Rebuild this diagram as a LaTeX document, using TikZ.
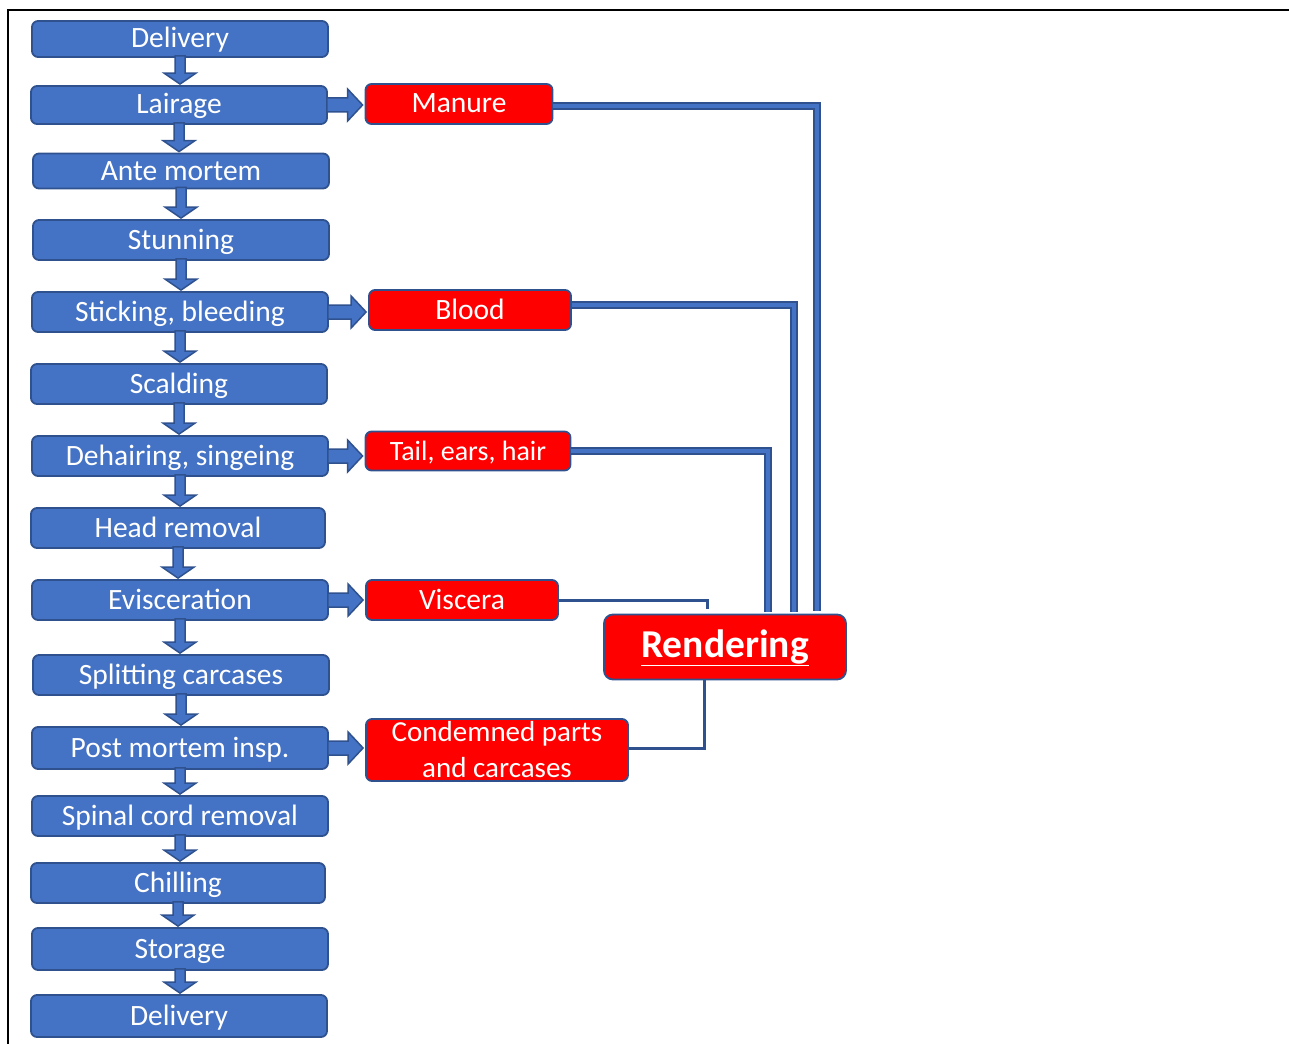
\documentclass[tikz,border=0pt]{standalone}
\usepackage{fontspec}
\setmainfont{Carlito}
\usetikzlibrary{calc}

\definecolor{procblue}{HTML}{4472C4}
\definecolor{edgeblue}{HTML}{2F528F}

\begin{document}
\begin{tikzpicture}[x=1pt, y=-1pt, align=center]
    \tikzset{
        n/.style        =   { rectangle
                            , rounded corners=6pt
                            , text centered
                            , draw=edgeblue
                            , line width=1.8pt
                            , fill=procblue
                            , text=white
                            , font=\fontsize{29.5}{35}\selectfont
                            , minimum width=296pt
                            , minimum height=40pt
                            , inner sep=0pt
                            , text height=24pt
                            , text depth=6pt
        }
        , w/.style      =   { n
                            , fill=red
                            , minimum width=0pt
        }
        , blk/.style    =   { fill=procblue
                            , draw=edgeblue
                            , line width=1.5pt
        }
        , dn/.style     =   { blk
                            , to path={let \p1=(\tikztostart.south), \p2=(\tikztotarget.north) in
                                (\x1-5pt,\y1+2pt) -- (\x1-5pt,\y2+12pt) -- (\x1-16pt,\y2+12pt)
                                -- (\x1,\y2+1pt) -- (\x1+16pt,\y2+12pt) -- (\x1+5pt,\y2+12pt)
                                -- (\x1+5pt,\y1+2pt) -- cycle}
        }
        , rt/.style     =   { blk
                            , to path={let \p1=(\tikztostart.east), \p2=(\tikztotarget.west) in
                                (\x1-1pt,\y1-7pt) -- (\x2-17pt,\y1-7pt) -- (\x2-17pt,\y1-16pt)
                                -- (\x2-2pt,\y1) -- (\x2-17pt,\y1+16pt) -- (\x2-17pt,\y1+7pt)
                                -- (\x1-1pt,\y1+7pt) -- cycle}
        }
        , dbl/.style    =   { draw=edgeblue
                            , line width=2pt
                            , double=procblue
                            , double distance=3.5pt
        }
        , thin/.style   =   { draw=edgeblue
                            , line width=3pt
        }
    }
    \useasboundingbox (0,0) rectangle (1289,1043);
    \draw[line width=2.5pt, line cap=rect] (1289,10) -- (8,10) -- (8,1043);

    % process chain
    \node(1)[n, minimum height=36pt] at (180,39)  {Delivery};
    \node(2)[n, minimum height=38pt] at (179,105) {Lairage};
    \node(3)[n, minimum height=35pt] at (181,171) {Ante mortem};
    \node(4)[n] at (181,240)  {Stunning};
    \node(5)[n] at (180,312)  {Sticking, bleeding};
    \node(6)[n] at (179,384)  {Scalding};
    \node(7)[n] at (180,456)  {Dehairing, singeing};
    \node(8)[n, minimum width=294pt] at (178,528) {Head removal};
    \node(9)[n] at (180,600)  {Evisceration};
    \node(10)[n] at (181,675) {Splitting carcases};
    \node(11)[n, minimum height=42pt] at (180,748) {Post mortem insp.};
    \node(12)[n] at (180,816) {Spinal cord removal};
    \node(13)[n, minimum width=294pt] at (178,883) {Chilling};
    \node(14)[n, minimum height=42pt] at (180,949) {Storage};
    \node(15)[n, minimum height=42pt] at (179,1016) {Delivery};

    % by-products
    \node(16)[w, minimum width=187pt] at (459,104)  {Manure};
    \node(17)[w, minimum width=202pt] at (470,310)  {Blood};
    \node(18)[w, minimum width=205pt, minimum height=39pt,
        font=\fontsize{28}{34}\selectfont] at (468,451) {Tail, ears, hair};
    \node(19)[w, minimum width=192pt] at (462,600)  {Viscera};
    \node(20)[w, minimum width=262pt, minimum height=62pt, text height=, text depth=,
        font=\fontsize{29}{36}\selectfont] at (497,750) {Condemned parts\\[0pt]and carcases};
    \node(21)[w, minimum width=242pt, minimum height=65pt, rounded corners=9pt,
        text height=30pt, text depth=10pt,
        font=\fontsize{39.5}{46}\selectfont\bfseries] at (725,647) {\underline{Rendering}};

    \foreach \a/\b in {1/2,2/3,3/4,4/5,5/6,6/7,7/8,8/9,9/10,10/11,11/12,12/13,13/14,14/15}
        \draw[dn] (\a) to (\b);
    \foreach \a/\b in {2/16,5/17,7/18,9/19,11/20}
        \draw[rt] (\a) to (\b);

    \draw[dbl]  ([yshift=-2pt]16.east) -| ([xshift=92pt,yshift=3pt]21.north);
    \draw[dbl]  ([yshift=5pt]17.east) -| ([xshift=69pt,yshift=2pt]21.north);
    \draw[dbl]  (18.east) -| ([xshift=43pt,yshift=2pt]21.north);
    \draw[thin] (19.east) -| ([xshift=-18pt,yshift=5pt]21.north);
    \draw[thin] ([yshift=2pt]20.east) -| ([xshift=-21pt]21.south);
\end{tikzpicture}
\end{document}
